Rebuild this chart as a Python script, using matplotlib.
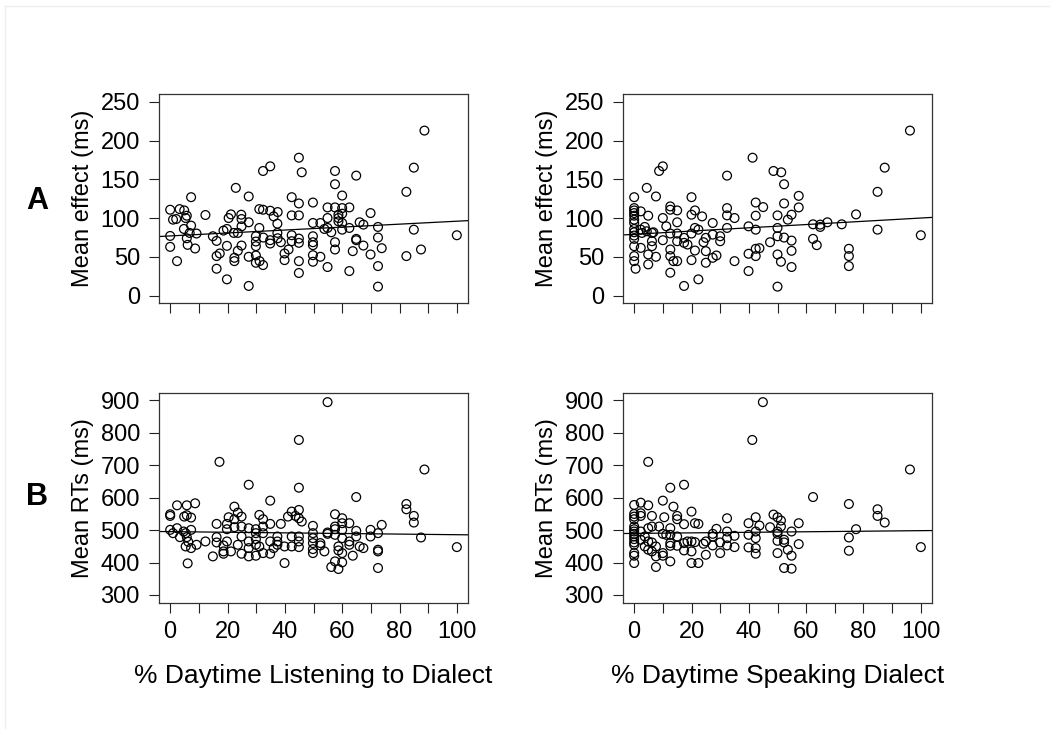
import matplotlib
matplotlib.use("Agg")
import matplotlib.pyplot as plt
from matplotlib.lines import Line2D

plt.rcParams['font.family'] = ['Liberation Sans', 'DejaVu Sans']

# ---- data ----
# A, left: % daytime listening vs mean effect
listen_x_A = [88.7, 85.0, 82.4, 85.0, 82.4, 87.5, 100, 44.9, 45.9, 32.4, 34.9, 22.9, 27.4, 7.3,
              57.5, 57.5, 64.9, 60.0, 42.4, 44.9, 49.8, 0, 1.0, 2.1, 3.3, 4.9, 5.8, 5.4, 4.8, 7.3,
              6.8, 9.2, 0, 5.8, 6.1, 8.7, 0, 2.4, 12.3, 14.9, 16.2, 16.2, 17.3, 16.2, 19.8, 19.8,
              18.6, 19.8, 20.4, 21.2, 22.2, 23.6, 24.8, 24.9, 24.9, 27.4, 24.9, 23.6, 22.4, 22.4,
              27.4, 27.4, 31.1, 31.1, 32.4, 34.9, 37.5, 36.1, 37.4, 37.4, 37.5, 32.5, 29.9, 29.9,
              29.9, 29.9, 29.9, 31.2, 32.4, 34.9, 34.9, 38.6, 39.9, 39.9, 41.3, 42.4, 42.4, 42.4,
              44.9, 44.9, 44.9, 44.9, 44.9, 49.8, 49.8, 49.8, 49.8, 49.8, 49.8, 52.4, 52.4, 53.8,
              54.9, 54.9, 54.9, 54.9, 56.2, 57.5, 57.5, 57.5, 58.7, 58.7, 58.7, 60.0, 60.0, 60.0,
              60.0, 62.5, 62.5, 62.5, 63.7, 64.9, 64.9, 66.1, 67.4, 67.4, 69.9, 69.9, 72.5, 72.5,
              72.5, 72.5, 73.8]
listen_y_A = [212.8, 165, 133.8, 85, 50.9, 59.4, 77.8, 177.8, 159, 160.7, 166.7, 138.9, 127.8, 126.9,
              160.7, 143.6, 154.7, 129, 126.9, 118.8, 120, 110.7, 97.9, 98.7, 111.5, 109.8, 103, 100,
              85.9, 90.2, 80.8, 80, 76.9, 73.9, 65.4, 60.7, 62.8, 44.4, 103.9, 76.5, 70.5, 50.9, 54.3,
              34.6, 20.9, 64.1, 83.8, 85.9, 100, 104.7, 80.8, 80.8, 104.3, 98.7, 89.3, 94.5, 64.5,
              57.7, 48.7, 44.4, 50, 12.4, 87.2, 111.5, 110.7, 109.4, 107.7, 102.1, 92.7, 80.8, 73.9,
              74.8, 76.5, 69.7, 63.7, 51.7, 42.3, 44.4, 39.3, 71.4, 67.1, 68.8, 54.3, 45.7, 59.4,
              103.4, 77.8, 70.1, 103.4, 73.5, 68, 44.4, 29.1, 93.6, 76.5, 68.8, 65, 52.1, 43.6, 93.6,
              50, 85.9, 113.7, 100, 87.2, 36.8, 81.6, 113.7, 68.8, 59.4, 104.3, 100, 95.7, 112.8,
              105.6, 93.6, 85, 113.7, 87.2, 31.6, 57.3, 73.1, 71.4, 94.5, 91.5, 64.5, 106.4, 53,
              88.5, 74.8, 38, 11.5, 61.1]

# A, right: % daytime speaking vs mean effect
speak_x_A = [96.2, 87.4, 84.9, 84.9, 100, 77.4, 72.4, 74.9, 74.9, 74.9, 67.4, 64.9, 64.9, 62.4,
             62.4, 63.7, 41.3, 48.6, 51.3, 52.3, 57.4, 57.4, 52.3, 54.9, 53.6, 50.0, 50.0, 50.0,
             52.3, 54.9, 54.9, 54.9, 50.0, 51.2, 50.0, 47.4, 42.4, 45.0, 42.4, 42.4, 39.9, 42.4,
             43.7, 42.4, 39.9, 39.9, 32.4, 32.4, 32.4, 35.0, 32.4, 35.0, 30.0, 30.0, 27.4, 27.4,
             27.4, 28.7, 25.0, 25.0, 24.2, 25.0, 23.7, 21.2, 20.0, 20.0, 21.2, 22.4, 20.0, 21.2,
             20.0, 22.4, 17.4, 17.4, 18.6, 17.4, 15.0, 15.0, 15.0, 15.0, 15.0, 13.7, 12.6, 12.6,
             12.6, 12.6, 12.6, 12.6, 10.0, 10.0, 11.2, 8.7, 10.0, 7.6, 4.4, 4.9, 7.6, 4.9, 4.9,
             6.2, 6.2, 6.2, 2.3, 2.3, 3.7, 2.3, 0, 0, 0, 0, 0, 0, 0, 0, 0, 0, 0, 0, 0, 0, 0.5,
             2.7, 4.4, 6.7]
speak_y_A = [212.8, 165, 133.8, 85, 77.8, 104.7, 91.9, 60.3, 50.9, 38, 94.5, 91.5, 88.5, 91.9,
             73.1, 65, 177.8, 160.7, 159, 143.6, 128.6, 113.7, 118.8, 104.3, 97.9, 103.4, 87.2,
             76.5, 74.8, 70.9, 57.7, 36.8, 53, 43.6, 11.5, 68.8, 120, 114.1, 103, 85, 89.3, 60.3,
             61.1, 50.9, 53.9, 31.6, 154.7, 112.8, 103.4, 100, 87.2, 44.4, 76.5, 70.1, 93.6, 78.6,
             48.7, 51.7, 42.3, 57.3, 68.8, 74.4, 102.1, 109.8, 126.9, 104.3, 87.2, 85, 80, 58.1,
             45.7, 20.9, 12.4, 68, 65.8, 74.4, 109.8, 94.5, 80, 70.1, 44.4, 44.4, 115, 110.7, 80,
             59.4, 50.9, 29.5, 100, 71.4, 89.3, 160.7, 166.7, 127.8, 138.9, 103, 50, 53, 40.2, 70.1,
             63.7, 80.8, 108.6, 85, 88.5, 61.5, 126.9, 112.8, 109.8, 106.4, 103, 97.9, 93.6, 85.9,
             81.6, 77.4, 73.1, 63.7, 50.9, 44.4, 34.6, 80.8, 82.9, 81.6]

# B, left: % daytime listening vs mean RTs
listen_x_B = [54.9, 44.9, 17.2, 27.4, 44.9, 88.7, 64.9, 34.9, 82.4, 82.4, 85.0, 85.0, 87.5, 100,
              0, 0, 2.4, 5.8, 8.7, 4.9, 5.8, 7.3, 0, 1.0, 2.4, 4.7, 5.4, 7.3, 3.4, 5.8, 6.3, 5.4,
              7.3, 9.2, 6.1, 12.3, 14.9, 16.2, 16.2, 16.2, 18.6, 18.6, 18.6, 19.8, 19.8, 19.8, 20.4,
              21.2, 22.4, 22.4, 22.4, 23.6, 24.9, 23.6, 24.9, 24.9, 24.9, 27.4, 27.4, 27.4, 27.4,
              29.9, 29.9, 29.9, 29.9, 29.9, 31.1, 32.4, 32.4, 32.4, 31.1, 32.4, 34.9, 34.9, 34.9,
              37.4, 37.4, 37.4, 36.1, 38.6, 39.9, 39.9, 41.1, 42.4, 42.4, 42.4, 43.7, 44.9, 44.9,
              45.9, 44.9, 44.9, 44.9, 49.8, 49.8, 49.8, 49.8, 49.8, 49.8, 52.4, 52.4, 53.8, 54.9,
              54.9, 57.5, 57.5, 57.5, 57.5, 57.5, 56.2, 58.7, 58.7, 58.7, 60.0, 60.0, 60.0, 60.0,
              60.0, 60.0, 62.5, 62.5, 62.5, 63.7, 64.9, 64.9, 66.1, 67.4, 69.9, 69.9, 72.5, 72.5,
              72.5, 72.5, 73.8]
listen_y_B = [894.9, 778.2, 710.6, 640, 630.8, 687, 602, 590.9, 580.6, 564.3, 543.8, 523.3, 477.2,
              447.6, 548.9, 543.8, 576.5, 576.5, 582.7, 541.7, 545.8, 538.7, 500.8, 490.6, 505.9,
              495.7, 490.6, 500.8, 478.3, 478.3, 463.9, 449.6, 444.5, 454.7, 397.4, 465, 418.9,
              519.2, 478.3, 461.9, 452.7, 434.3, 427.1, 519.2, 502.8, 465, 539.7, 434.3, 572.4, 509,
              533.6, 554, 541.7, 454.7, 511, 480.3, 427.1, 505.9, 465, 444.5, 418.9, 502.8, 490.6,
              472.1, 454.7, 421, 546.9, 533.6, 511, 490.6, 449.6, 429.1, 519.2, 465, 427.1, 480.3,
              465, 454.7, 444.5, 519.2, 449.6, 398.4, 541.7, 557.1, 480.3, 449.6, 543.8, 562.2,
              536.6, 526.4, 480.3, 465, 447.6, 513.1, 490.6, 475.2, 459.9, 441.4, 429.1, 459.9,
              452.7, 434.3, 492.6, 488.5, 548.9, 511, 502.8, 485.4, 403.5, 386.2, 380, 449.6, 437.3,
              536.6, 521.3, 500.8, 475.2, 429.1, 400.5, 521.3, 465, 454.7, 421, 497.7, 480.3, 449.6,
              444.5, 500.8, 480.3, 490.6, 439.4, 434.3, 383.1, 516.2]

# B, right: % daytime speaking vs mean RTs
speak_x_B = [44.9, 41.2, 4.9, 17.4, 12.6, 96.2, 62.4, 10.0, 74.9, 84.9, 84.9, 87.4, 77.4, 74.9,
             74.9, 100, 57.4, 57.4, 54.9, 54.9, 54.9, 52.3, 52.3, 53.6, 52.3, 48.6, 50.0, 51.2,
             51.2, 50.0, 50.0, 50.0, 50.0, 47.4, 43.7, 42.4, 42.4, 42.4, 42.4, 42.4, 39.9, 39.9,
             39.9, 32.4, 32.4, 32.4, 32.4, 35.0, 35.0, 28.7, 27.4, 27.4, 27.4, 30.0, 30.0, 25.0,
             25.0, 24.2, 22.4, 21.2, 20.0, 20.0, 20.0, 20.0, 22.4, 21.2, 18.6, 17.4, 17.4, 17.4,
             15.0, 15.0, 15.0, 15.0, 13.7, 12.6, 12.6, 12.6, 12.6, 12.6, 11.2, 10.5, 10.0, 10.0,
             10.0, 8.7, 7.6, 7.6, 7.6, 6.2, 6.2, 6.2, 6.2, 4.9, 4.9, 4.9, 4.9, 3.7, 2.3, 2.3, 2.3,
             2.3, 2.3, 3.7, 0, 0, 0, 0, 0, 0, 0, 0, 0, 0, 0, 0, 0, 0, 0]
speak_y_B = [894.9, 778.2, 710.6, 640, 630.8, 687, 602, 590.9, 580.6, 564.3, 543.8, 523.3, 502.8,
             477.2, 436.3, 447.6, 521.3, 456.8, 495.7, 421, 381, 383.1, 470.2, 439.4, 462, 547.9,
             539.7, 529.5, 511, 495.7, 488.5, 467, 429.1, 509, 514.1, 539.7, 495.7, 475.2, 444.5,
             427.1, 521.3, 485.4, 446.5, 536.6, 495.7, 475.2, 452.7, 482.4, 447.6, 503.9, 488.5,
             480.3, 452.7, 461.9, 429.1, 465, 423.9, 457.8, 519.2, 521.3, 557.1, 465, 434.3, 398.4,
             398.4, 462.9, 465, 518.2, 459.9, 437.3, 480.3, 451.7, 543.8, 533.6, 572.4, 505.9,
             485.4, 459.9, 451.7, 403.5, 485.4, 539.7, 488.5, 429.1, 421, 511, 449.6, 418.9, 386.2,
             543.8, 511, 461.9, 434.3, 576.5, 505.9, 465, 439.4, 449.6, 584.7, 552, 543.8, 495.7,
             470.2, 480.3, 577.6, 549.9, 541.7, 533.6, 511, 502.8, 495.7, 488.5, 480.3, 472.1,
             461.9, 454.7, 429.1, 421, 398.4]

# fitted lines (intercept, slope) as drawn in the figure
fit_listen_A = (76.9, 0.19)
fit_speak_A = (79.0, 0.21)
fit_listen_B = (495.3, -0.095)
fit_speak_B = (489.8, 0.085)

x_ticks = list(range(0, 101, 10))
x_tick_labels = [str(t) if t % 20 == 0 else '' for t in x_ticks]
effect_ticks = [0, 50, 100, 150, 200, 250]
rt_ticks = [300, 400, 500, 600, 700, 800, 900]

fig = plt.figure(figsize=(10.5, 7.29), dpi=100)

W, H = 1050, 729
def add_ax(left, top, right, bottom):
    return fig.add_axes([left / W, 1 - bottom / H, (right - left) / W, (bottom - top) / H])

ax_tl = add_ax(158.7, 94, 468.3, 303.3)
ax_tr = add_ax(622.7, 94, 932.3, 303.3)
ax_bl = add_ax(158.7, 392.7, 468.3, 602.7)
ax_br = add_ax(622.7, 392.7, 932.3, 602.7)

panels = [
    (ax_tl, listen_x_A, listen_y_A, fit_listen_A, (-10, 260), effect_ticks, 'Mean effect (ms)', False),
    (ax_tr, speak_x_A, speak_y_A, fit_speak_A, (-10, 260), effect_ticks, 'Mean effect (ms)', False),
    (ax_bl, listen_x_B, listen_y_B, fit_listen_B, (276, 924), rt_ticks, 'Mean RTs (ms)', True),
    (ax_br, speak_x_B, speak_y_B, fit_speak_B, (276, 924), rt_ticks, 'Mean RTs (ms)', True),
]

for ax, xs, ys, fit, ylim, yticks, ylabel, bottom_row in panels:
    ax.scatter(xs, ys, s=40, facecolors='none', edgecolors='black', linewidths=0.9, zorder=3)
    ax.axline((0, fit[0]), slope=fit[1], color='black', lw=0.9, zorder=2)
    ax.set_xlim(-4, 104)
    ax.set_ylim(*ylim)
    ax.set_xticks(x_ticks)
    ax.set_yticks(yticks)
    ax.set_yticklabels([str(t) for t in yticks])
    if bottom_row:
        ax.set_xticklabels(x_tick_labels)
    else:
        ax.set_xticklabels([''] * len(x_ticks))
    ax.tick_params(direction='out', length=7.5, width=0.8, labelsize=17, colors='#222222',
                   labelcolor='black')
    ax.tick_params(axis='y', pad=6)
    ax.tick_params(axis='x', pad=6)
    ax.set_ylabel(ylabel, fontsize=17, labelpad=5)
    for sp in ax.spines.values():
        sp.set_linewidth(0.9)
        sp.set_color('#333333')

ax_bl.set_xlabel('% Daytime Listening to Dialect', fontsize=19, labelpad=15)
ax_br.set_xlabel('% Daytime Speaking Dialect', fontsize=19, labelpad=15)

fig.text(37 / W, 1 - 201 / H, 'A', fontsize=22, fontweight='bold', ha='center', va='center')
fig.text(37 / W, 1 - 497 / H, 'B', fontsize=22, fontweight='bold', ha='center', va='center')

# faint frame lines at the image edge
fig.add_artist(Line2D([5 / W, 5 / W], [0, 1 - 6 / H], color='#eeeeee', lw=1))
fig.add_artist(Line2D([5 / W, 1], [1 - 6 / H, 1 - 6 / H], color='#eeeeee', lw=1))

fig.savefig('out.png', dpi=100)
